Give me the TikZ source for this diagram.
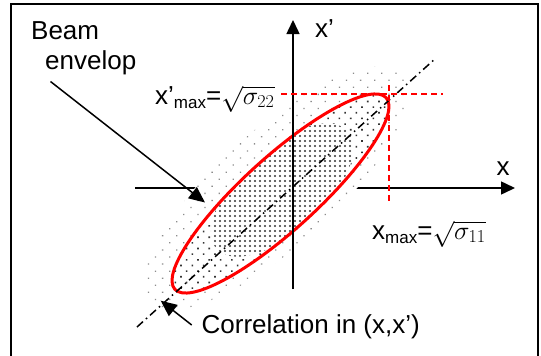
\RequirePackage{fix-cm}
\documentclass[tikz,border=0pt]{standalone}
\usepackage{fontspec}
\setmainfont{Liberation Sans}
\usetikzlibrary{arrows.meta,patterns.meta}
\newcommand{\subtxt}[1]{\raisebox{-4.5pt}{\fontsize{17}{20}\selectfont #1}}
\begin{document}
\begin{tikzpicture}[x=1pt,y=-1pt,
  lbl/.style={font=\fontsize{26}{31}\selectfont, inner sep=0pt, anchor=base west},
  axisline/.style={line width=1.5pt, -{Triangle[length=14pt,width=13pt]}},
  pointer/.style={line width=1.5pt, -{Triangle[length=16pt,width=14pt]}},
  limit/.style={red, line width=1.5pt, dash pattern=on 6pt off 4pt},
  corr/.style={line width=1.5pt, dash pattern=on 8pt off 4pt on 1.5pt off 4pt},
  envelope/.style={red, line width=3pt},
  sparse/.style={pattern={Dots[distance=10pt,radius=0.9pt,angle=45]}, pattern color=black!45},
  medium/.style={pattern={Dots[distance=8pt,radius=1.15pt,angle=45]}, pattern color=black!80},
  dense/.style={pattern={Dots[distance=5pt,radius=1.05pt,angle=0]}, pattern color=black!80},
]
\useasboundingbox (0,0) rectangle (541,356);
% frame
\draw[line width=2pt] (10.5,360) -- (10.5,4) -- (538,4) -- (538,360);
% coordinates
\coordinate (xs) at (135,188); \coordinate (xe) at (515,188);
\coordinate (ys) at (293,289); \coordinate (ye) at (293,20);
\coordinate (d0) at (137,327); \coordinate (d1) at (436,58);
\coordinate (h0) at (281,94);  \coordinate (h1) at (443,94);
\coordinate (v0) at (389,85);  \coordinate (v1) at (389,203);
\coordinate (b0) at (50.5,81.5); \coordinate (b1) at (205,202.5);
\coordinate (c0) at (191.7,325); \coordinate (c1) at (160.7,300.7);
% horizontal axis (partly covered by the beam)
\draw[axisline] (xs) -- (xe);
% outer sparse halo
\fill[white, shift={(276,188)}, rotate=42] (0,0) ellipse [x radius=170, y radius=58];
\path[sparse, shift={(276,188)}, rotate=42] (0,0) ellipse [x radius=170, y radius=58];
% inside of envelope
\fill[white, shift={(280.5,193.5)}, rotate=42.2] (0,0) ellipse [x radius=142.6, y radius=36.6];
\path[medium, shift={(280.5,193.5)}, rotate=42.2] (0,0) ellipse [x radius=142.6, y radius=36.6];
% dense core
\begin{scope}
  \clip[shift={(280.5,193.5)}, rotate=42.2] (0,0) ellipse [x radius=142.6, y radius=36.6];
  \fill[white, shift={(282,190)}, rotate=42] (0,0) ellipse [x radius=88, y radius=42];
  \path[dense, shift={(282,190)}, rotate=42] (0,0) ellipse [x radius=88, y radius=42];
\end{scope}
% envelope
\draw[envelope, shift={(280.5,193.5)}, rotate=42.2] (0,0) ellipse [x radius=142.6, y radius=36.6];
% vertical axis
\draw[axisline] (ys) -- (ye);
% correlation line
\draw[corr] (d0) -- (d1);
% limits
\draw[limit] (h0) -- (h1);
\draw[limit] (v0) -- (v1);
% labels
\node[lbl] (beam) at (31,39) {Beam};
\node[lbl] (env) at (45,69.5) {envelop};
\node[lbl] (xp) at (315,37) {x’};
\node[lbl] (xl) at (496.5,175) {x};
\node[lbl] (xpmax) at (155,104) {x’\subtxt{max}=$\sqrt{\sigma_{22}}$};
\node[lbl] (xmax) at (372,239) {x\subtxt{max}=$\sqrt{\sigma_{11}}$};
\node[lbl] (corrl) at (201.5,333) {Correlation in (x,x’)};
% pointers
\draw[pointer] (b0) -- (b1);
\draw[pointer] (c0) -- (c1);
\end{tikzpicture}
\end{document}
